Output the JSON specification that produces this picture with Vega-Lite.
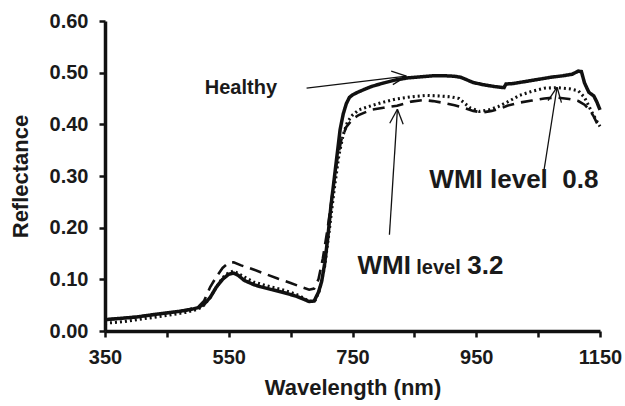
{
  "$schema": "https://vega.github.io/schema/vega-lite/v6.json",
  "width": 495,
  "height": 310,
  "autosize": {"type": "none"},
  "padding": {"left": 105, "top": 21, "right": 25, "bottom": 75},
  "background": "white",
  "config": {
    "view": {"stroke": null},
    "font": "Liberation Sans",
    "axis": {
      "grid": false,
      "labelFlush": false,
      "labelOverlap": false,
      "domainColor": "#111111",
      "domainWidth": 3.5,
      "tickColor": "#111111",
      "tickWidth": 2.5,
      "tickSize": 6,
      "labelFont": "Liberation Sans",
      "labelFontWeight": "bold",
      "labelFontSize": 20,
      "labelColor": "#1a1a1a",
      "titleFont": "Liberation Sans",
      "titleFontWeight": "bold",
      "titleFontSize": 22,
      "titleColor": "#1a1a1a"
    }
  },
  "datasets": {
    "spectra": [
      {"series": "Healthy", "wl": 350, "r": 0.022},
      {"series": "Healthy", "wl": 370, "r": 0.024},
      {"series": "Healthy", "wl": 400, "r": 0.027},
      {"series": "Healthy", "wl": 430, "r": 0.032},
      {"series": "Healthy", "wl": 450, "r": 0.035},
      {"series": "Healthy", "wl": 470, "r": 0.038},
      {"series": "Healthy", "wl": 490, "r": 0.042},
      {"series": "Healthy", "wl": 500, "r": 0.045},
      {"series": "Healthy", "wl": 510, "r": 0.052},
      {"series": "Healthy", "wl": 520, "r": 0.065},
      {"series": "Healthy", "wl": 530, "r": 0.085},
      {"series": "Healthy", "wl": 540, "r": 0.100},
      {"series": "Healthy", "wl": 550, "r": 0.110},
      {"series": "Healthy", "wl": 558, "r": 0.112},
      {"series": "Healthy", "wl": 565, "r": 0.108},
      {"series": "Healthy", "wl": 575, "r": 0.098},
      {"series": "Healthy", "wl": 590, "r": 0.090},
      {"series": "Healthy", "wl": 600, "r": 0.086},
      {"series": "Healthy", "wl": 620, "r": 0.080},
      {"series": "Healthy", "wl": 640, "r": 0.074},
      {"series": "Healthy", "wl": 660, "r": 0.067},
      {"series": "Healthy", "wl": 670, "r": 0.062},
      {"series": "Healthy", "wl": 680, "r": 0.057},
      {"series": "Healthy", "wl": 688, "r": 0.058},
      {"series": "Healthy", "wl": 695, "r": 0.075},
      {"series": "Healthy", "wl": 700, "r": 0.095},
      {"series": "Healthy", "wl": 705, "r": 0.130},
      {"series": "Healthy", "wl": 710, "r": 0.180},
      {"series": "Healthy", "wl": 715, "r": 0.240},
      {"series": "Healthy", "wl": 720, "r": 0.290},
      {"series": "Healthy", "wl": 725, "r": 0.340},
      {"series": "Healthy", "wl": 730, "r": 0.390},
      {"series": "Healthy", "wl": 735, "r": 0.420},
      {"series": "Healthy", "wl": 740, "r": 0.440},
      {"series": "Healthy", "wl": 745, "r": 0.452},
      {"series": "Healthy", "wl": 750, "r": 0.457},
      {"series": "Healthy", "wl": 760, "r": 0.463},
      {"series": "Healthy", "wl": 780, "r": 0.473},
      {"series": "Healthy", "wl": 800, "r": 0.480},
      {"series": "Healthy", "wl": 820, "r": 0.486},
      {"series": "Healthy", "wl": 840, "r": 0.490},
      {"series": "Healthy", "wl": 860, "r": 0.492},
      {"series": "Healthy", "wl": 880, "r": 0.494},
      {"series": "Healthy", "wl": 900, "r": 0.494},
      {"series": "Healthy", "wl": 915, "r": 0.493},
      {"series": "Healthy", "wl": 925, "r": 0.491},
      {"series": "Healthy", "wl": 935, "r": 0.486},
      {"series": "Healthy", "wl": 945, "r": 0.481},
      {"series": "Healthy", "wl": 960, "r": 0.477},
      {"series": "Healthy", "wl": 980, "r": 0.473},
      {"series": "Healthy", "wl": 995, "r": 0.471},
      {"series": "Healthy", "wl": 998, "r": 0.478},
      {"series": "Healthy", "wl": 1010, "r": 0.479},
      {"series": "Healthy", "wl": 1030, "r": 0.483},
      {"series": "Healthy", "wl": 1050, "r": 0.487},
      {"series": "Healthy", "wl": 1070, "r": 0.491},
      {"series": "Healthy", "wl": 1090, "r": 0.494},
      {"series": "Healthy", "wl": 1105, "r": 0.497},
      {"series": "Healthy", "wl": 1115, "r": 0.503},
      {"series": "Healthy", "wl": 1120, "r": 0.502},
      {"series": "Healthy", "wl": 1125, "r": 0.480},
      {"series": "Healthy", "wl": 1132, "r": 0.462},
      {"series": "Healthy", "wl": 1140, "r": 0.455},
      {"series": "Healthy", "wl": 1145, "r": 0.443},
      {"series": "Healthy", "wl": 1150, "r": 0.428},
      {"series": "WMI 0.8", "wl": 350, "r": 0.015},
      {"series": "WMI 0.8", "wl": 380, "r": 0.018},
      {"series": "WMI 0.8", "wl": 420, "r": 0.025},
      {"series": "WMI 0.8", "wl": 450, "r": 0.030},
      {"series": "WMI 0.8", "wl": 480, "r": 0.036},
      {"series": "WMI 0.8", "wl": 500, "r": 0.042},
      {"series": "WMI 0.8", "wl": 510, "r": 0.050},
      {"series": "WMI 0.8", "wl": 520, "r": 0.065},
      {"series": "WMI 0.8", "wl": 530, "r": 0.085},
      {"series": "WMI 0.8", "wl": 540, "r": 0.103},
      {"series": "WMI 0.8", "wl": 550, "r": 0.113},
      {"series": "WMI 0.8", "wl": 558, "r": 0.116},
      {"series": "WMI 0.8", "wl": 570, "r": 0.108},
      {"series": "WMI 0.8", "wl": 590, "r": 0.095},
      {"series": "WMI 0.8", "wl": 610, "r": 0.088},
      {"series": "WMI 0.8", "wl": 630, "r": 0.082},
      {"series": "WMI 0.8", "wl": 650, "r": 0.075},
      {"series": "WMI 0.8", "wl": 665, "r": 0.068},
      {"series": "WMI 0.8", "wl": 680, "r": 0.057},
      {"series": "WMI 0.8", "wl": 690, "r": 0.060},
      {"series": "WMI 0.8", "wl": 697, "r": 0.080},
      {"series": "WMI 0.8", "wl": 705, "r": 0.125},
      {"series": "WMI 0.8", "wl": 712, "r": 0.190},
      {"series": "WMI 0.8", "wl": 720, "r": 0.270},
      {"series": "WMI 0.8", "wl": 728, "r": 0.340},
      {"series": "WMI 0.8", "wl": 735, "r": 0.380},
      {"series": "WMI 0.8", "wl": 742, "r": 0.405},
      {"series": "WMI 0.8", "wl": 750, "r": 0.418},
      {"series": "WMI 0.8", "wl": 760, "r": 0.428},
      {"series": "WMI 0.8", "wl": 780, "r": 0.436},
      {"series": "WMI 0.8", "wl": 800, "r": 0.443},
      {"series": "WMI 0.8", "wl": 820, "r": 0.449},
      {"series": "WMI 0.8", "wl": 850, "r": 0.454},
      {"series": "WMI 0.8", "wl": 870, "r": 0.456},
      {"series": "WMI 0.8", "wl": 890, "r": 0.455},
      {"series": "WMI 0.8", "wl": 910, "r": 0.453},
      {"series": "WMI 0.8", "wl": 922, "r": 0.450},
      {"series": "WMI 0.8", "wl": 930, "r": 0.442},
      {"series": "WMI 0.8", "wl": 940, "r": 0.432},
      {"series": "WMI 0.8", "wl": 955, "r": 0.425},
      {"series": "WMI 0.8", "wl": 970, "r": 0.428},
      {"series": "WMI 0.8", "wl": 985, "r": 0.434},
      {"series": "WMI 0.8", "wl": 1000, "r": 0.443},
      {"series": "WMI 0.8", "wl": 1020, "r": 0.456},
      {"series": "WMI 0.8", "wl": 1040, "r": 0.464},
      {"series": "WMI 0.8", "wl": 1060, "r": 0.470},
      {"series": "WMI 0.8", "wl": 1080, "r": 0.471},
      {"series": "WMI 0.8", "wl": 1100, "r": 0.469},
      {"series": "WMI 0.8", "wl": 1115, "r": 0.465},
      {"series": "WMI 0.8", "wl": 1125, "r": 0.452},
      {"series": "WMI 0.8", "wl": 1135, "r": 0.428},
      {"series": "WMI 0.8", "wl": 1143, "r": 0.410},
      {"series": "WMI 0.8", "wl": 1150, "r": 0.396},
      {"series": "WMI 3.2", "wl": 350, "r": 0.022},
      {"series": "WMI 3.2", "wl": 380, "r": 0.025},
      {"series": "WMI 3.2", "wl": 420, "r": 0.030},
      {"series": "WMI 3.2", "wl": 450, "r": 0.035},
      {"series": "WMI 3.2", "wl": 480, "r": 0.040},
      {"series": "WMI 3.2", "wl": 500, "r": 0.046},
      {"series": "WMI 3.2", "wl": 510, "r": 0.058},
      {"series": "WMI 3.2", "wl": 520, "r": 0.085},
      {"series": "WMI 3.2", "wl": 530, "r": 0.105},
      {"series": "WMI 3.2", "wl": 540, "r": 0.122},
      {"series": "WMI 3.2", "wl": 550, "r": 0.132},
      {"series": "WMI 3.2", "wl": 558, "r": 0.133},
      {"series": "WMI 3.2", "wl": 570, "r": 0.127},
      {"series": "WMI 3.2", "wl": 590, "r": 0.119},
      {"series": "WMI 3.2", "wl": 610, "r": 0.110},
      {"series": "WMI 3.2", "wl": 630, "r": 0.101},
      {"series": "WMI 3.2", "wl": 650, "r": 0.093},
      {"series": "WMI 3.2", "wl": 670, "r": 0.084},
      {"series": "WMI 3.2", "wl": 680, "r": 0.080},
      {"series": "WMI 3.2", "wl": 688, "r": 0.082},
      {"series": "WMI 3.2", "wl": 695, "r": 0.100},
      {"series": "WMI 3.2", "wl": 702, "r": 0.140},
      {"series": "WMI 3.2", "wl": 710, "r": 0.200},
      {"series": "WMI 3.2", "wl": 718, "r": 0.270},
      {"series": "WMI 3.2", "wl": 725, "r": 0.330},
      {"series": "WMI 3.2", "wl": 732, "r": 0.370},
      {"series": "WMI 3.2", "wl": 740, "r": 0.395},
      {"series": "WMI 3.2", "wl": 750, "r": 0.410},
      {"series": "WMI 3.2", "wl": 760, "r": 0.418},
      {"series": "WMI 3.2", "wl": 780, "r": 0.428},
      {"series": "WMI 3.2", "wl": 800, "r": 0.432},
      {"series": "WMI 3.2", "wl": 822, "r": 0.436},
      {"series": "WMI 3.2", "wl": 845, "r": 0.444},
      {"series": "WMI 3.2", "wl": 865, "r": 0.447},
      {"series": "WMI 3.2", "wl": 880, "r": 0.445},
      {"series": "WMI 3.2", "wl": 895, "r": 0.442},
      {"series": "WMI 3.2", "wl": 915, "r": 0.437},
      {"series": "WMI 3.2", "wl": 930, "r": 0.432},
      {"series": "WMI 3.2", "wl": 945, "r": 0.426},
      {"series": "WMI 3.2", "wl": 960, "r": 0.423},
      {"series": "WMI 3.2", "wl": 975, "r": 0.426},
      {"series": "WMI 3.2", "wl": 990, "r": 0.431},
      {"series": "WMI 3.2", "wl": 1000, "r": 0.436},
      {"series": "WMI 3.2", "wl": 1020, "r": 0.442},
      {"series": "WMI 3.2", "wl": 1040, "r": 0.446},
      {"series": "WMI 3.2", "wl": 1060, "r": 0.450},
      {"series": "WMI 3.2", "wl": 1080, "r": 0.452},
      {"series": "WMI 3.2", "wl": 1100, "r": 0.449},
      {"series": "WMI 3.2", "wl": 1115, "r": 0.445},
      {"series": "WMI 3.2", "wl": 1125, "r": 0.438},
      {"series": "WMI 3.2", "wl": 1133, "r": 0.428},
      {"series": "WMI 3.2", "wl": 1140, "r": 0.415},
      {"series": "WMI 3.2", "wl": 1150, "r": 0.390}
    ],
    "arrows": [
      {"x": 675.8, "y": 0.470, "x2": 837.1, "y2": 0.4932},
      {"x": 837.1, "y": 0.4932, "x2": 812.6, "y2": 0.5029},
      {"x": 837.1, "y": 0.4932, "x2": 815.2, "y2": 0.4769},
      {"x": 1059.7, "y": 0.3126, "x2": 1080.6, "y2": 0.4718},
      {"x": 1080.6, "y": 0.4718, "x2": 1066.1, "y2": 0.446},
      {"x": 1080.6, "y": 0.4718, "x2": 1087.7, "y2": 0.442},
      {"x": 809.7, "y": 0.1864, "x2": 822.6, "y2": 0.4291},
      {"x": 822.6, "y": 0.4291, "x2": 810.2, "y2": 0.402},
      {"x": 822.6, "y": 0.4291, "x2": 831.9, "y2": 0.400}
    ],
    "labels": [
      {"kind": "mid", "x": 511.3, "y": 0.4596, "text": "Healthy"},
      {"kind": "big", "x": 874.2, "y": 0.2777, "text": "WMI level\u00a0\u00a00.8"},
      {"kind": "big", "x": 758, "y": 0.110, "text": "WMI"},
      {"kind": "small", "x": 853, "y": 0.110, "text": "level"},
      {"kind": "big", "x": 935.5, "y": 0.110, "text": "3.2"}
    ]
  },
  "layer": [
    {
      "data": {"name": "spectra"},
      "mark": {"type": "line", "color": "#111111", "strokeCap": "butt"},
      "encoding": {
        "x": {
          "field": "wl", "type": "quantitative",
          "scale": {"domain": [350, 1150], "nice": false, "zero": false},
          "axis": {
            "title": "Wavelength (nm)",
            "values": [350, 450, 550, 650, 750, 850, 950, 1050, 1150],
            "labelExpr": "(datum.value - 350) % 200 == 0 ? datum.label : ''",
            "format": "d",
            "labelPadding": 10,
            "titlePadding": 10
          }
        },
        "y": {
          "field": "r", "type": "quantitative",
          "scale": {"domain": [0, 0.6], "nice": false},
          "axis": {
            "title": "Reflectance",
            "values": [0, 0.1, 0.2, 0.3, 0.4, 0.5, 0.6],
            "format": ".2f",
            "labelPadding": 11,
            "titlePadding": 17
          }
        },
        "strokeDash": {
          "field": "series", "type": "nominal",
          "scale": {"domain": ["Healthy", "WMI 0.8", "WMI 3.2"], "range": [[1, 0], [2, 3], [12, 7]]},
          "legend": null
        },
        "strokeWidth": {
          "field": "series", "type": "nominal",
          "scale": {"domain": ["Healthy", "WMI 0.8", "WMI 3.2"], "range": [3.5, 2.6, 3]},
          "legend": null
        }
      }
    },
    {
      "data": {"name": "arrows"},
      "mark": {"type": "rule", "color": "#111111", "strokeWidth": 1.3},
      "encoding": {
        "x": {"field": "x", "type": "quantitative", "scale": {"domain": [350, 1150], "nice": false, "zero": false}},
        "y": {"field": "y", "type": "quantitative", "scale": {"domain": [0, 0.6], "nice": false}},
        "x2": {"field": "x2"},
        "y2": {"field": "y2"}
      }
    },
    {
      "data": {"name": "labels"},
      "transform": [{"filter": "datum.kind == 'big'"}],
      "mark": {"type": "text", "align": "left", "baseline": "alphabetic", "fontSize": 26, "fontWeight": "bold", "font": "Liberation Sans", "color": "#1a1a1a"},
      "encoding": {
        "x": {"field": "x", "type": "quantitative", "scale": {"domain": [350, 1150], "nice": false, "zero": false}},
        "y": {"field": "y", "type": "quantitative", "scale": {"domain": [0, 0.6], "nice": false}},
        "text": {"field": "text"}
      }
    },
    {
      "data": {"name": "labels"},
      "transform": [{"filter": "datum.kind == 'small'"}],
      "mark": {"type": "text", "align": "left", "baseline": "alphabetic", "fontSize": 20, "fontWeight": "bold", "font": "Liberation Sans", "color": "#1a1a1a"},
      "encoding": {
        "x": {"field": "x", "type": "quantitative", "scale": {"domain": [350, 1150], "nice": false, "zero": false}},
        "y": {"field": "y", "type": "quantitative", "scale": {"domain": [0, 0.6], "nice": false}},
        "text": {"field": "text"}
      }
    },
    {
      "data": {"name": "labels"},
      "transform": [{"filter": "datum.kind == 'mid'"}],
      "mark": {"type": "text", "align": "left", "baseline": "alphabetic", "fontSize": 20, "fontWeight": "bold", "font": "Liberation Sans", "color": "#1a1a1a"},
      "encoding": {
        "x": {"field": "x", "type": "quantitative", "scale": {"domain": [350, 1150], "nice": false, "zero": false}},
        "y": {"field": "y", "type": "quantitative", "scale": {"domain": [0, 0.6], "nice": false}},
        "text": {"field": "text"}
      }
    }
  ]
}
